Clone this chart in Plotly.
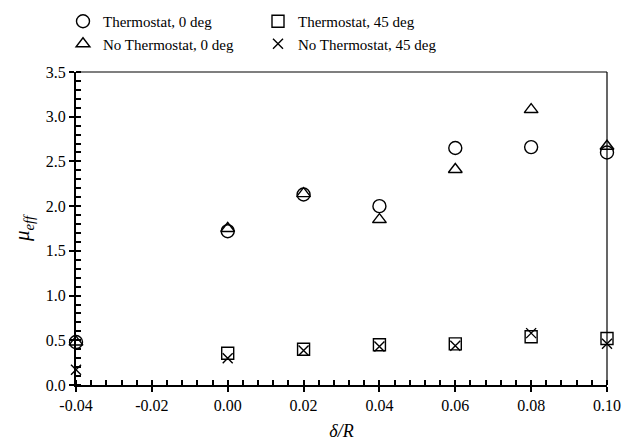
import plotly.graph_objects as go

# Normalised displacement δ/R
delta_r = [-0.04, 0.00, 0.02, 0.04, 0.06, 0.08, 0.10]

# Effective friction coefficient for each configuration
thermo_0 = [0.48, 1.72, 2.13, 2.00, 2.65, 2.66, 2.60]
thermo_45 = [None, 0.355, 0.40, 0.45, 0.46, 0.54, 0.52]
no_thermo_0 = [0.48, 1.75, 2.14, 1.85, 2.41, 3.08, 2.67]
no_thermo_45 = [0.17, 0.30, 0.385, 0.43, 0.44, 0.58, 0.46]

x_ticks = [-0.04, -0.02, 0.0, 0.02, 0.04, 0.06, 0.08, 0.10]
x_tick_text = ["-0.04", "-0.02", "0.00", "0.02", "0.04", "0.06", "0.08", "0.10"]
y_ticks = [0, 0.5, 1.0, 1.5, 2.0, 2.5, 3.0, 3.5]
y_tick_text = ["0.0", "0.5", "1.0", "1.5", "2.0", "2.5", "3.0", "3.5"]

series = [
    ("Thermostat, 0 deg", thermo_0, "circle-open", 13),
    ("Thermostat, 45 deg", thermo_45, "square-open", 12),
    ("No Thermostat, 0 deg", no_thermo_0, "triangle-up-open", 12),
    ("No Thermostat, 45 deg", no_thermo_45, "x-thin-open", 10),
]

FONT = "Liberation Serif"

fig = go.Figure()
for name, vals, sym, size in series:
    fig.add_trace(go.Scatter(
        x=delta_r, y=vals, mode="markers", name=name, cliponaxis=False,
        marker=dict(symbol=sym, size=size, color="black",
                    line=dict(color="black", width=1.4)),
    ))

x_range = [-0.04, 0.10]
y_range = [0.0, 3.5]

tick_style = dict(showgrid=False, zeroline=False, tickcolor="black",
                  tickwidth=1.5, ticklen=5, automargin=False)

fig.update_layout(
    width=625, height=444,
    margin=dict(l=76, r=18, t=72, b=59),
    plot_bgcolor="white", paper_bgcolor="white",
    font=dict(family=FONT, size=16, color="black"),
    showlegend=True,
    legend=dict(
        orientation="h", xref="container", yref="container",
        x=63 / 625, y=1 - 5 / 444, xanchor="left", yanchor="top",
        entrywidth=150, entrywidthmode="pixels",
        font=dict(family=FONT, size=15, color="black"),
        itemwidth=30, bgcolor="rgba(0,0,0,0)", tracegroupgap=0,
    ),
    xaxis=dict(
        range=x_range, showline=True, linewidth=2, linecolor="black",
        ticks="outside", tickvals=x_ticks, ticktext=x_tick_text,
        minor=dict(dtick=0.004, tick0=0, ticks="inside", ticklen=5,
                   tickcolor="black", tickwidth=1.5),
        title=dict(text="<i>δ/R</i>", font=dict(size=18), standoff=11),
        **tick_style,
    ),
    yaxis=dict(
        range=y_range, showline=True, linewidth=2, linecolor="black",
        ticks="outside", tickvals=y_ticks, ticktext=y_tick_text,
        minor=dict(dtick=0.1, tick0=0, ticks="inside", ticklen=5,
                   tickcolor="black", tickwidth=1.5),
        title=dict(text="<i>μ<sub>eff</sub></i>", font=dict(size=21), standoff=10),
        **tick_style,
    ),
    # overlay axes so the major ticks also reach into the plot area
    xaxis2=dict(range=x_range, overlaying="x", side="bottom", showline=False,
                ticks="inside", tickvals=x_ticks, showticklabels=False, **tick_style),
    yaxis2=dict(range=y_range, overlaying="y", side="left", showline=False,
                ticks="inside", tickvals=y_ticks, showticklabels=False, **tick_style),
    shapes=[
        dict(type="line", xref="x domain", yref="y domain", x0=0, x1=1, y0=1, y1=1,
             line=dict(color="black", width=1.2)),
        dict(type="line", xref="x domain", yref="y domain", x0=1, x1=1, y0=0, y1=1,
             line=dict(color="black", width=1.2)),
    ],
)

# an invisible trace binds the overlay axes so they are drawn
fig.add_trace(go.Scatter(x=[x_range[0]], y=[y_range[0]], xaxis="x2", yaxis="y2",
                         mode="markers", marker=dict(opacity=0), showlegend=False,
                         hoverinfo="skip"))

fig.write_html("out.html")
